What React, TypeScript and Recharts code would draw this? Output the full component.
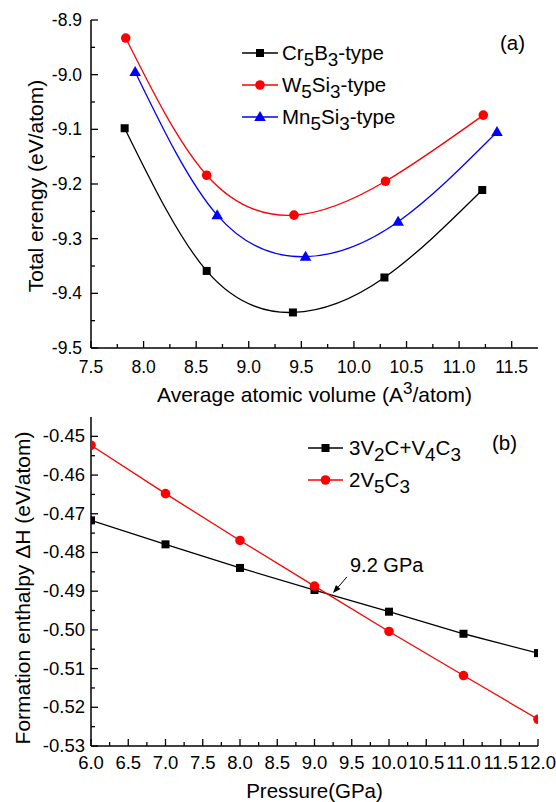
import React from 'react';
import { LineChart, Line, XAxis, YAxis, Legend, Label, ReferenceLine } from 'recharts';

const FONT = '"Liberation Sans", Arial, Helvetica, sans-serif';

// ---------- Panel (a) data ----------
const crVolume = [7.82, 8.6, 9.42, 10.29, 11.22];
const crEnergy = [-9.098, -9.359, -9.435, -9.371, -9.211];
const wVolume = [7.83, 8.6, 9.43, 10.3, 11.23];
const wEnergy = [-8.933, -9.184, -9.257, -9.195, -9.074];
const mnVolume = [7.92, 8.7, 9.54, 10.42, 11.36];
const mnEnergy = [-8.995, -9.257, -9.333, -9.269, -9.105];
const seriesNamesA = ['Cr5B3-type', 'W5Si3-type', 'Mn5Si3-type'];

const volumeMajorTicks = [7.5, 8.0, 8.5, 9.0, 9.5, 10.0, 10.5, 11.0, 11.5];
const volumeMinorTicks = [7.75, 8.25, 8.75, 9.25, 9.75, 10.25, 10.75, 11.25];
const energyMajorTicks = [-9.5, -9.4, -9.3, -9.2, -9.1, -9.0, -8.9];
const energyMinorTicks = [-9.45, -9.35, -9.25, -9.15, -9.05, -8.95];

// ---------- Panel (b) data ----------
const pressure = [6, 7, 8, 9, 10, 11, 12];
const mixEnthalpy = [-0.4717, -0.4779, -0.484, -0.4897, -0.4953, -0.501, -0.506];
const v5c3Enthalpy = [-0.4523, -0.4648, -0.4769, -0.4887, -0.5004, -0.5118, -0.5231];
const seriesNamesB = ['3V2C+V4C3', '2V5C3'];

const pressureMajorTicks = [6.0, 6.5, 7.0, 7.5, 8.0, 8.5, 9.0, 9.5, 10.0, 10.5, 11.0, 11.5, 12.0];
const pressureMinorTicks = [6.25, 6.75, 7.25, 7.75, 8.25, 8.75, 9.25, 9.75, 10.25, 10.75, 11.25, 11.75];
const enthalpyMajorTicks = [-0.53, -0.52, -0.51, -0.5, -0.49, -0.48, -0.47, -0.46, -0.45];
const enthalpyMinorTicks = [-0.525, -0.515, -0.505, -0.495, -0.485, -0.475, -0.465, -0.455];

const zip = (xs: number[], ys: number[]) => xs.map((x, i) => ({ x, y: ys[i] }));
const merge = (a: number[], b: number[]) => [...a, ...b].sort((p, q) => p - q);

const BLACK = '#000000';
const RED = '#ff0000';
const BLUE = '#0000ff';

type Side = 'bottom' | 'top' | 'left' | 'right';

const makeTick =
  (side: Side, major: number[], digits: number, showLabel: boolean, offset: number, fontSize = 17) =>
  (props: any) => {
    const { x, y, payload } = props;
    const v = payload.value as number;
    const isMajor = major.some((m) => Math.abs(m - v) < 1e-9);
    const len = isMajor ? 7 : 4;
    let l = { x1: x, y1: y, x2: x, y2: y };
    if (side === 'bottom') l = { x1: x, y1: y, x2: x, y2: y - len };
    if (side === 'top') l = { x1: x, y1: y, x2: x, y2: y + len };
    if (side === 'left') l = { x1: x, y1: y, x2: x + len, y2: y };
    if (side === 'right') l = { x1: x, y1: y, x2: x - len, y2: y };
    let label = null;
    if (showLabel && isMajor) {
      if (side === 'bottom') {
        label = (
          <text x={x} y={y + offset} textAnchor="middle" fontSize={fontSize} fontFamily={FONT} fill="#000">
            {v.toFixed(digits)}
          </text>
        );
      } else if (side === 'left') {
        label = (
          <text x={x - offset} y={y + 6} textAnchor="end" fontSize={fontSize} fontFamily={FONT} fill="#000">
            {v.toFixed(digits)}
          </text>
        );
      }
    }
    return (
      <g>
        <line {...l} stroke="#000" strokeWidth={1.3} />
        {label}
      </g>
    );
  };

const squareDot = (color: string, s = 8) => (props: any) => {
  const { cx, cy, index } = props;
  return <rect key={`s${index}`} x={cx - s / 2} y={cy - s / 2} width={s} height={s} fill={color} />;
};
const circleDot = (color: string, r = 4.8) => (props: any) => {
  const { cx, cy, index } = props;
  return <circle key={`c${index}`} cx={cx} cy={cy} r={r} fill={color} />;
};
const triangleDot = (color: string) => (props: any) => {
  const { cx, cy, index } = props;
  const pts = `${cx},${cy - 6} ${cx - 5.8},${cy + 4} ${cx + 5.8},${cy + 4}`;
  return <polygon key={`t${index}`} points={pts} fill={color} />;
};

const MarkerIcon = ({ shape, color, cx, cy }: { shape: string; color: string; cx: number; cy: number }) => {
  if (shape === 'square') return <rect x={cx - 4} y={cy - 4} width={8} height={8} fill={color} />;
  if (shape === 'circle') return <circle cx={cx} cy={cy} r={4.8} fill={color} />;
  return <polygon points={`${cx},${cy - 6} ${cx - 5.8},${cy + 4} ${cx + 5.8},${cy + 4}`} fill={color} />;
};

const formula = (name: string) => {
  const out: React.ReactNode[] = [];
  for (let i = 0; i < name.length; i++) {
    const ch = name[i];
    const prev = i > 0 ? name[i - 1] : '';
    if (/[0-9]/.test(ch) && /[A-Za-z]/.test(prev)) {
      out.push(
        <sub key={i} style={{ fontSize: '0.92em', verticalAlign: '-0.3em', lineHeight: 0 }}>
          {ch}
        </sub>
      );
    } else {
      out.push(<span key={i}>{ch}</span>);
    }
  }
  return out;
};

const makeLegend =
  (names: string[], colors: string[], shapes: string[], rowH: number, lineW: number, gap: number, fontSize: number) => () =>
    (
      <div style={{ fontFamily: FONT, fontSize, color: '#000' }}>
        {names.map((n, i) => (
          <div key={n} style={{ display: 'flex', alignItems: 'center', height: rowH, lineHeight: `${rowH}px` }}>
            <svg width={lineW} height={20} style={{ display: 'block' }}>
              <line x1={0} y1={10} x2={lineW} y2={10} stroke={colors[i]} strokeWidth={1.3} />
              <MarkerIcon shape={shapes[i]} color={colors[i]} cx={lineW / 2} cy={10} />
            </svg>
            <span style={{ marginLeft: gap, whiteSpace: 'nowrap' }}>{formula(n)}</span>
          </div>
        ))}
      </div>
    );

const ArrowNote = (props: any) => {
  const { x1, y1, x2, y2 } = props;
  const ang = Math.atan2(y2 - y1, x2 - x1);
  const hl = 8;
  const hw = 3;
  const bx = x2 - hl * Math.cos(ang);
  const by = y2 - hl * Math.sin(ang);
  const px = -Math.sin(ang) * hw;
  const py = Math.cos(ang) * hw;
  return (
    <g>
      <line x1={x1} y1={y1} x2={bx} y2={by} stroke="#000" strokeWidth={1} />
      <polygon points={`${x2},${y2} ${bx + px},${by + py} ${bx - px},${by - py}`} fill="#000" />
      <text x={x1 + 3} y={y1 - 5} fontSize={20} fontFamily={FONT} fill="#000">
        9.2 GPa
      </text>
    </g>
  );
};

const axisLineStyle = { stroke: '#000', strokeWidth: 1.5 };

export default function App() {
  const volumeTicks = merge(volumeMajorTicks, volumeMinorTicks);
  const energyTicks = merge(energyMajorTicks, energyMinorTicks);
  const pressureTicks = merge(pressureMajorTicks, pressureMinorTicks);
  const enthalpyTicks = merge(enthalpyMajorTicks, enthalpyMinorTicks);

  return (
    <div style={{ position: 'absolute', left: 0, top: 0, width: 556, height: 802, background: '#fff', fontFamily: FONT }}>
      {/* Panel (a) */}
      <div style={{ position: 'absolute', left: 0, top: 0 }}>
        <LineChart width={556} height={406} margin={{ top: 20, right: 18, bottom: 0, left: 0 }}>
          <XAxis
            xAxisId={0}
            dataKey="x"
            type="number"
            domain={[7.5, 11.75]}
            allowDataOverflow
            ticks={volumeTicks}
            interval={0}
            tickLine={false}
            tickSize={0}
            tickMargin={0}
            tick={makeTick('bottom', volumeMajorTicks, 1, true, 25, 17.5)}
            axisLine={axisLineStyle}
            height={58}
          >
            <Label
              content={(p: any) => {
                const vb = p.viewBox || { x: 91, y: 348, width: 447 };
                return (
                  <text x={vb.x + vb.width / 2} y={vb.y + 54} textAnchor="middle" fontSize={21} fontFamily={FONT} fill="#000">
                    <tspan>Average atomic volume (A</tspan>
                    <tspan dy={-8} fontSize={17}>3</tspan>
                    <tspan dy={8}>/atom)</tspan>
                  </text>
                );
              }}
            />
          </XAxis>
          <XAxis
            xAxisId="top"
            orientation="top"
            type="number"
            domain={[7.5, 11.75]}
            allowDataOverflow
            ticks={volumeTicks}
            interval={0}
            tickLine={false}
            tickSize={0}
            tickMargin={0}
            tick={makeTick('top', volumeMajorTicks, 1, false, 0)}
            axisLine={axisLineStyle}
            height={0}
          />
          <YAxis
            yAxisId={0}
            type="number"
            domain={[-9.5, -8.9]}
            allowDataOverflow
            ticks={energyTicks}
            interval={0}
            tickLine={false}
            tickSize={0}
            tickMargin={0}
            tick={makeTick('left', energyMajorTicks, 1, true, 9, 17.5)}
            axisLine={axisLineStyle}
            width={91}
          >
            <Label
              content={(p: any) => {
                const vb = p.viewBox || { y: 20, height: 328 };
                const cy = vb.y + vb.height / 2 + 2;
                return (
                  <text
                    x={35}
                    y={cy}
                    transform={`rotate(-90 35 ${cy})`}
                    textAnchor="middle"
                    dominantBaseline="central"
                    fontSize={21}
                    fontFamily={FONT}
                    fill="#000"
                  >
                    Total erengy (eV/atom)
                  </text>
                );
              }}
            />
          </YAxis>
          <YAxis
            yAxisId="right"
            orientation="right"
            type="number"
            domain={[-9.5, -8.9]}
            allowDataOverflow
            ticks={energyTicks}
            interval={0}
            tickLine={false}
            tickSize={0}
            tickMargin={0}
            tick={makeTick('right', energyMajorTicks, 1, false, 0)}
            axisLine={axisLineStyle}
            width={0}
          />
          <Line
            data={zip(crVolume, crEnergy)}
            dataKey="y"
            name={seriesNamesA[0]}
            type="natural"
            stroke={BLACK}
            strokeWidth={1.3}
            dot={squareDot(BLACK)}
            isAnimationActive={false}
          />
          <Line
            data={zip(wVolume, wEnergy)}
            dataKey="y"
            name={seriesNamesA[1]}
            type="natural"
            stroke={RED}
            strokeWidth={1.3}
            dot={circleDot(RED)}
            isAnimationActive={false}
          />
          <Line
            data={zip(mnVolume, mnEnergy)}
            dataKey="y"
            name={seriesNamesA[2]}
            type="natural"
            stroke={BLUE}
            strokeWidth={1.3}
            dot={triangleDot(BLUE)}
            isAnimationActive={false}
          />
          <Legend
            layout="vertical"
            align="center"
            verticalAlign="middle"
            content={makeLegend(seriesNamesA, [BLACK, RED, BLUE], ['square', 'circle', 'triangle'], 32, 36, 4, 20.5)}
            wrapperStyle={{ left: 242, top: 37, width: 'auto', height: 'auto' }}
          />
        </LineChart>
        <div style={{ position: 'absolute', left: 500, top: 32, fontSize: 20.5, lineHeight: '22px', fontFamily: FONT, color: '#000' }}>
          (a)
        </div>
      </div>

      {/* Panel (b) */}
      <div style={{ position: 'absolute', left: 0, top: 406 }}>
        <LineChart width={556} height={396} margin={{ top: 11, right: 18, bottom: 0, left: 0 }}>
          <XAxis
            xAxisId={0}
            dataKey="x"
            type="number"
            domain={[6, 12]}
            allowDataOverflow
            ticks={pressureTicks}
            interval={0}
            tickLine={false}
            tickSize={0}
            tickMargin={0}
            tick={makeTick('bottom', pressureMajorTicks, 1, true, 23, 18.5)}
            axisLine={axisLineStyle}
            height={56}
          >
            <Label
              content={(p: any) => {
                const vb = p.viewBox || { x: 91, y: 340, width: 447 };
                return (
                  <text x={vb.x + vb.width / 2} y={vb.y + 52} textAnchor="middle" fontSize={20.5} fontFamily={FONT} fill="#000">
                    Pressure(GPa)
                  </text>
                );
              }}
            />
          </XAxis>
          <XAxis
            xAxisId="top"
            orientation="top"
            type="number"
            domain={[6, 12]}
            allowDataOverflow
            ticks={pressureTicks}
            interval={0}
            tickLine={false}
            tickSize={0}
            tickMargin={0}
            tick={makeTick('top', pressureMajorTicks, 1, false, 0)}
            axisLine={axisLineStyle}
            height={0}
          />
          <YAxis
            yAxisId={0}
            type="number"
            domain={[-0.53, -0.445]}
            allowDataOverflow
            ticks={enthalpyTicks}
            interval={0}
            tickLine={false}
            tickSize={0}
            tickMargin={0}
            tick={makeTick('left', enthalpyMajorTicks, 2, true, 6, 18.5)}
            axisLine={axisLineStyle}
            width={91}
          >
            <Label
              content={() => {
                const cy = 182;
                return (
                  <text
                    x={22}
                    y={cy}
                    transform={`rotate(-90 22 ${cy})`}
                    textAnchor="middle"
                    dominantBaseline="central"
                    fontSize={21}
                    fontFamily={FONT}
                    fill="#000"
                  >
                    Formation enthalpy ΔH (eV/atom)
                  </text>
                );
              }}
            />
          </YAxis>
          <YAxis
            yAxisId="right"
            orientation="right"
            type="number"
            domain={[-0.53, -0.445]}
            allowDataOverflow
            ticks={enthalpyTicks}
            interval={0}
            tickLine={false}
            tickSize={0}
            tickMargin={0}
            tick={makeTick('right', enthalpyMajorTicks, 2, false, 0)}
            axisLine={axisLineStyle}
            width={0}
          />
          <Line
            data={zip(pressure, mixEnthalpy)}
            dataKey="y"
            name={seriesNamesB[0]}
            type="linear"
            stroke={BLACK}
            strokeWidth={1.3}
            dot={squareDot(BLACK)}
            isAnimationActive={false}
          />
          <Line
            data={zip(pressure, v5c3Enthalpy)}
            dataKey="y"
            name={seriesNamesB[1]}
            type="linear"
            stroke={RED}
            strokeWidth={1.3}
            dot={circleDot(RED)}
            isAnimationActive={false}
          />
          <ReferenceLine
            segment={[
              { x: 9.436, y: -0.4863 },
              { x: 9.248, y: -0.4905 },
            ]}
            shape={ArrowNote}
          />
          <Legend
            layout="vertical"
            align="center"
            verticalAlign="middle"
            content={makeLegend(seriesNamesB, [BLACK, RED], ['square', 'circle'], 32, 35, 6, 20.5)}
            wrapperStyle={{ left: 308, top: 26, width: 'auto', height: 'auto' }}
          />
        </LineChart>
        <div style={{ position: 'absolute', left: 492, top: 26, fontSize: 20.5, lineHeight: '22px', fontFamily: FONT, color: '#000' }}>
          (b)
        </div>
      </div>
    </div>
  );
}
